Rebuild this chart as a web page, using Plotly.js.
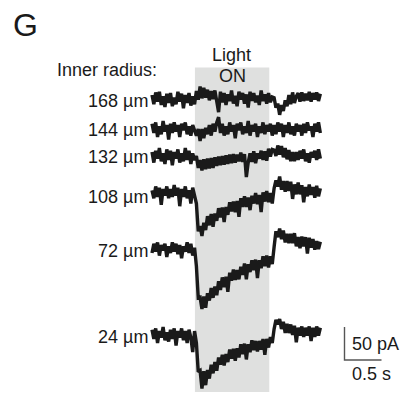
<!DOCTYPE html>
<html>
<head>
<meta charset="utf-8">
<script src="https://cdn.plot.ly/plotly-3.0.1.min.js"></script>
<style>html,body{margin:0;padding:0;background:#fff;}#chart{width:402px;height:397px;}</style>
</head>
<body>
<div id="chart"></div>
<script>
// ---- data ----
const radiusLabels = ['168 µm', '144 µm', '132 µm', '108 µm', '72 µm', '24 µm'];
const sampleInterval = 0.025;   // s between samples
const lightOn = 0.58;           // s
const lightOff = 1.585;         // s
const scaleBarPA = 50;          // pA
const scaleBarS = 0.5;          // s

// current traces, pA relative to baseline
const r168 = [6,-8,10,-4,11,-9,4,-12,8,-6,9,-11,2,-8,11,-4,8,-14,6,-6,9,-10,4,-8,
  12,-1,19,1,17,2,14,-2,12,0,13,-7,
  -20,
  11,-5,9,-9,7,-3,13,-7,5,-11,11,-1,9,-7,7,-13,11,-3,9,-5,5,-9,13,-3,7,-7,9,-5,3,
  2,-13,-7,-24,-9,-18,-2,-11,6,-8,10,-6,4,
  9,-4,10,-3,8,-2,11,-4,9,-1,10,-3,8];
const r144 = [8,-6,10,-12,4,-8,12,-4,6,-16,8,-6,10,-4,6,-12,8,-2,10,-8,4,-10,6,-4,
  -10,0,-18,0,-14,2,-8,6,-10,8,-4,10,
  18,
  -6,8,-10,4,-8,10,-4,6,-14,8,-2,10,-8,4,-6,12,-10,6,-4,8,-12,4,-6,10,-8,6,-4,8,-10,
  6,-8,10,-4,8,-12,6,-6,10,-8,4,-10,8,
  -4,6,-10,8,-6,10,-2,4,-12,8,-4,10,-6];
const r132 = [6,-10,8,-4,12,-8,4,-12,10,-6,8,-14,6,-4,10,-10,4,-8,12,-6,8,-12,4,-6,
  0,-18,-6,-22,-5,-20,-4,-19,-3,-18,-2,-15,
  -1,-14,0,-13,1,-12,2,-11,3,-10,2,-8,5,-9,3,
  -32,
  -10,4,-9,7,-11,4,-4,8,-6,7,-7,11,-1,10,
  9,0,16,2,15,-2,12,-5,9,-8,6,-8,6,
  -6,8,-4,10,-8,4,-10,6,-2,8,-6,10,-4];
const r108 = [4,-8,10,-6,8,-18,6,-4,10,-8,6,-6,12,-4,8,-20,6,-6,10,-8,4,-16,8,-4,
  -16,-58,-50,-65,-45,-56,-35,-49,-32,-51,
  -31,-42,-23,-37,-22,-44,-21,-33,-14,-28,
  -13,-29,-12,-36,-8,-21,-5,-21,-7,-26,
  -4,-16,0,-17,-3,-29,1,-13,3,-14,
  0,-16,
  7,19,10,25,5,18,2,18,3,17,
  -9,13,-2,16,-2,12,-14,9,-5,13,
  -3,9,-7,11,-5,7];
const r72 = [-6,8,-4,10,-10,6,-2,8,-12,4,-6,10,-4,8,-8,6,-14,4,-4,10,-6,8,-10,2,
  -26,-74,-73,-91,-72,-89,-67,-78,-59,-74,
  -57,-70,-49,-62,-43,-58,-42,-65,-36,-48,
  -31,-47,-32,-46,-27,-39,-22,-46,-23,-35,
  -17,-32,-16,-44,-17,-29,-11,-26,-10,-28,
  -11,-23,
  3,27,18,31,15,28,10,23,9,23,
  9,24,4,18,1,19,4,18,-7,17,
  2,15,-1,12,0,11];
const r24 = [8,-6,10,-12,6,-4,12,-8,4,-10,8,-6,10,-16,6,-4,10,-8,6,-12,8,-4,-26,6,
  -12,-56,-54,-81,-55,-76,-53,-66,-45,-58,
  -41,-54,-34,-45,-30,-46,-29,-41,-22,-36,
  -21,-39,-20,-34,-14,-29,-13,-37,-14,-26,
  -8,-23,-9,-25,-9,-22,-6,-30,-6,-19,
  -3,-12,
  9,23,16,24,9,20,3,17,3,16,
  0,14,-11,11,-1,13,-3,11,-1,13,
  -9,11,-3,13,-1,11];
const seriesValues = [r168, r144, r132, r108, r72, r24];

// ---- layout geometry (pixels of the 402x397 figure) ----
const W = 402, H = 397;
const PX_PER_S = 74, PX_PER_PA = 0.66, T0_PX = 152;
const tOf = px => (px - T0_PX) / PX_PER_S;
const yOf = py => -py / PX_PER_PA;
const baselinePx = [99, 129, 156, 193, 249, 335];
const labelPx = [101, 130, 157, 197, 251, 337];

const FONT = 'Arial, "Liberation Sans", Helvetica, sans-serif';
const ink = '#1a1a1a';

const data = seriesValues.map((vals, k) => ({
  type: 'scatter', mode: 'lines',
  x0: 0, dx: sampleInterval,
  y: vals.map(v => v + yOf(baselinePx[k])),
  line: {color: ink, width: 3.4},
  hoverinfo: 'skip', showlegend: false
}));

// scale bar
const sbX = tOf(344.5), sbY = yOf(360);
data.push({
  type: 'scatter', mode: 'lines',
  x: [sbX, sbX, sbX + scaleBarS],
  y: [sbY + scaleBarPA, sbY, sbY],
  line: {color: '#555', width: 1.4},
  hoverinfo: 'skip', showlegend: false
});

const annotations = [];
const txt = (text, px, py, anchor, size) => annotations.push({
  text, x: tOf(px), y: yOf(py), xref: 'x', yref: 'y',
  xanchor: anchor, yanchor: 'middle', showarrow: false,
  font: {family: FONT, size: size || 18, color: ink}
});
txt('G', 11, 25, 'left', 32);
txt('Inner radius:', 55, 70, 'left');
txt('Light', 231, 55, 'center');
txt('ON', 232, 76, 'center');
radiusLabels.forEach((l, k) => txt(l, 150, labelPx[k], 'right'));
txt('50 pA', 350, 344, 'left');
txt('0.5 s', 350, 374, 'left');

const layout = {
  width: W, height: H,
  margin: {l: 0, r: 0, t: 0, b: 0, pad: 0},
  paper_bgcolor: '#fff', plot_bgcolor: '#fff',
  xaxis: {range: [tOf(0), tOf(W)], visible: false, fixedrange: true},
  yaxis: {range: [yOf(H), yOf(0)], visible: false, fixedrange: true},
  shapes: [{
    type: 'rect', xref: 'x', yref: 'y', layer: 'below',
    x0: lightOn, x1: lightOff, y0: yOf(67.5), y1: yOf(392),
    fillcolor: '#dfe0df', line: {width: 0}
  }],
  annotations
};

Plotly.newPlot('chart', data, layout, {displayModeBar: false, staticPlot: true});
</script>
</body>
</html>
